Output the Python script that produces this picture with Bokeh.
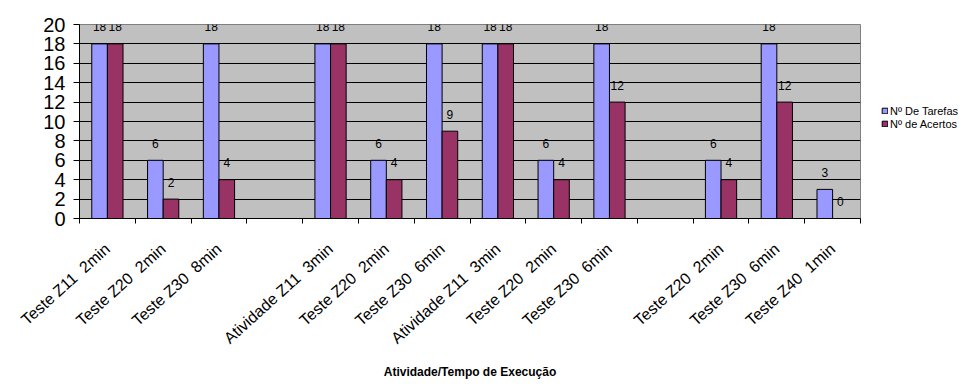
import math
import numpy as np
from bokeh.plotting import figure
from bokeh.layouts import row
from bokeh.models import ColumnDataSource, FixedTicker, Legend, LegendItem
from bokeh.core.properties import value
from bokeh.embed import file_html
from bokeh.resources import INLINE

# ---- data ----
categories = ["Teste Z11\u00a0 2min", "Teste Z20\u00a0 2min", "Teste Z30\u00a0 8min", "",
              "Atividade Z11\u00a0 3min", "Teste Z20\u00a0 2min", "Teste Z30\u00a0 6min",
              "Atividade Z11\u00a0 3min", "Teste Z20\u00a0 2min", "Teste Z30\u00a0 6min", "",
              "Teste Z20\u00a0 2min", "Teste Z30\u00a0 6min", "Teste Z40\u00a0 1min"]
tarefas = [18, 6, 18, np.nan, 18, 6, 18, 18, 6, 18, np.nan, 6, 18, 3]
acertos = [18, 2, 4, np.nan, 18, 4, 9, 18, 4, 12, np.nan, 4, 12, 0]
series_names = ["Nº De Tarefas", "Nº de Acertos"]
y_ticks = [0, 2, 4, 6, 8, 10, 12, 14, 16, 18, 20]
x_title = "Atividade/Tempo de Execução"

FONT = "Liberation Sans"
C_TAR = "#9999FF"
C_ACE = "#993366"
BW = 0.28
H = 381

idx = list(range(len(categories)))

def lab(v):
    return "" if (isinstance(v, float) and math.isnan(v)) else str(int(v))

src_t = ColumnDataSource(dict(x=[i - BW / 2 for i in idx], top=tarefas,
                              txt=[lab(v) for v in tarefas]))
src_a = ColumnDataSource(dict(x=[i + BW / 2 for i in idx], top=acertos,
                              txt=[lab(v) for v in acertos]))

p = figure(width=861, height=H, output_backend="svg", toolbar_location=None,
           x_range=(-0.5, len(categories) - 0.5), y_range=(0, 20),
           min_border_left=79, min_border_right=1, min_border_top=24,
           min_border_bottom=163)
p.background_fill_color = "#C0C0C0"
p.border_fill_color = "white"
p.outline_line_color = "#808080"
p.outline_line_width = 1

r_t = p.vbar(x="x", top="top", width=BW, bottom=0, source=src_t,
             fill_color=C_TAR, line_color="black", line_width=1)
r_a = p.vbar(x="x", top="top", width=BW, bottom=0, source=src_a,
             fill_color=C_ACE, line_color="black", line_width=1)

for s in (src_t, src_a):
    p.text(x="x", y="top", text="txt", source=s, text_align="center",
           text_baseline="middle", y_offset=-17, text_font=value(FONT),
           text_font_size="12px", text_color="black")

# y axis
p.yaxis.ticker = FixedTicker(ticks=y_ticks)
p.yaxis.major_label_text_font = FONT
p.yaxis.major_label_text_font_size = "20px"
p.yaxis.major_label_text_color = "black"
p.yaxis.major_tick_out = 6
p.yaxis.major_tick_in = 0
p.yaxis.minor_tick_out = 0
p.yaxis.minor_tick_in = 0
p.yaxis.axis_line_color = "black"
p.yaxis.major_tick_line_color = "black"
p.yaxis.major_label_standoff = 8

# x axis
lab_ticks = [i for i in idx if categories[i] != ""]
p.xaxis.ticker = FixedTicker(ticks=lab_ticks,
                             minor_ticks=[i - 0.5 for i in range(len(categories) + 1)])
p.xaxis.major_label_overrides = {i: categories[i] for i in lab_ticks}
p.xaxis.major_label_orientation = math.radians(42)
p.xaxis.major_label_text_font = FONT
p.xaxis.major_label_text_font_size = "16px"
p.xaxis.major_label_text_color = "black"
p.xaxis.major_tick_out = 0
p.xaxis.major_tick_in = 0
p.xaxis.minor_tick_out = 5
p.xaxis.minor_tick_in = 0
p.xaxis.minor_tick_line_color = "black"
p.xaxis.axis_line_color = "black"
p.xaxis.major_label_standoff = 23
p.xaxis.axis_label = x_title
p.xaxis.axis_label_text_font = FONT
p.xaxis.axis_label_text_font_size = "12px"
p.xaxis.axis_label_text_font_style = "bold"
p.xaxis.axis_label_text_color = "black"
p.xaxis.axis_label_standoff = 9

# grid
p.xgrid.visible = False
p.ygrid.ticker = FixedTicker(ticks=y_ticks[1:-1])
p.ygrid.grid_line_color = "black"
p.ygrid.grid_line_width = 1

# ---- legend panel (frame is aligned with the chart's frame by the row) ----
q = figure(width=101, height=H, output_backend="svg", toolbar_location=None,
           x_range=(0, 1), y_range=(0, 1), x_axis_type=None, y_axis_type=None,
           min_border=0)
q.outline_line_color = None
q.background_fill_color = "white"
q.border_fill_color = "white"
q.xgrid.visible = False
q.ygrid.visible = False
key_src = ColumnDataSource(dict(x=[np.nan], top=[np.nan]))
l_t = q.vbar(x="x", top="top", width=0.1, source=key_src,
             fill_color=C_TAR, line_color="black", line_width=1)
l_a = q.vbar(x="x", top="top", width=0.1, source=key_src,
             fill_color=C_ACE, line_color="black", line_width=1)

legend = Legend(items=[LegendItem(label=series_names[0], renderers=[l_t]),
                       LegendItem(label=series_names[1], renderers=[l_a])],
                location=(20, 88), orientation="vertical",
                background_fill_alpha=0, border_line_alpha=0,
                padding=0, margin=0, spacing=0,
                glyph_width=7, glyph_height=7, label_height=13,
                label_standoff=2,
                label_text_font=FONT, label_text_font_size="11px",
                label_text_color="black")
q.add_layout(legend, "center")

layout = row(p, q, spacing=0)
open("out.html", "w").write(file_html(layout, INLINE))
